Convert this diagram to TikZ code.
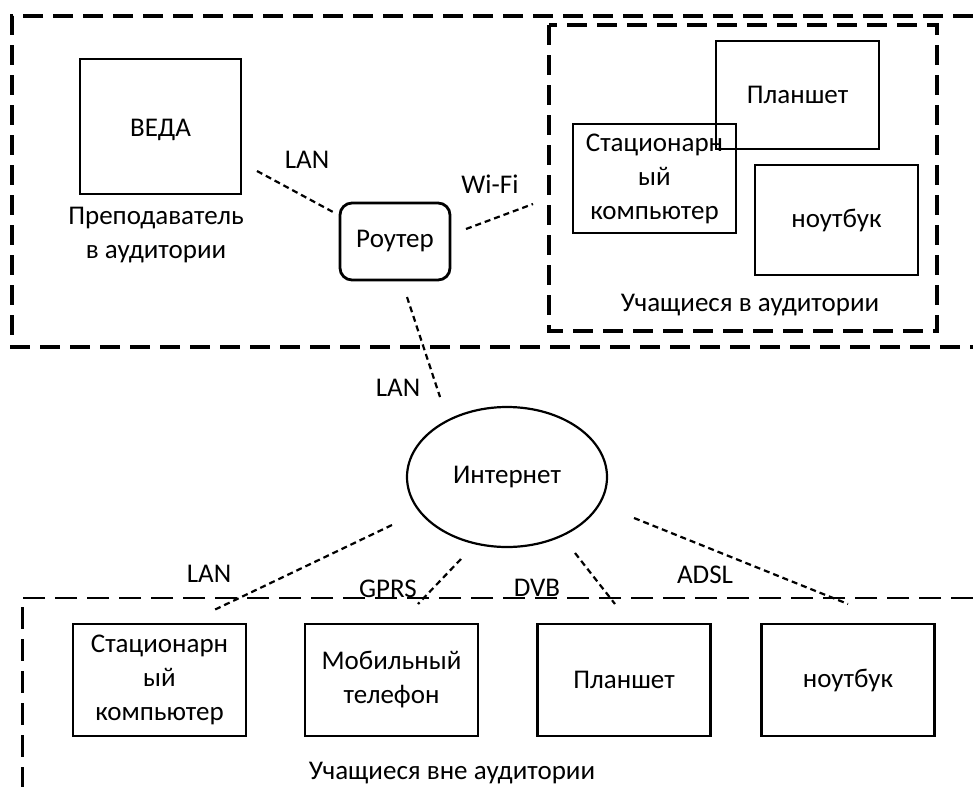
\documentclass[tikz,border=0pt]{standalone}
\usepackage{fontspec}
\setmainfont{Carlito}
\usetikzlibrary{shapes.geometric}
\begin{document}
\begin{tikzpicture}[x=0.5pt,y=-0.5pt,
  every node/.style={font=\fontsize{13.5}{17}\selectfont, align=center, inner sep=0pt, outer sep=0pt},
  devbox/.style={draw, line width=1.4pt, minimum width=81.5pt, minimum height=54.5pt},
  lowbox/.style={draw, line width=1.4pt, minimum width=86.5pt, minimum height=56pt},
  zone/.style={line width=1.7pt, dash pattern=on 10pt off 5pt},
  link/.style={line width=1.1pt, dash pattern=on 3pt off 2pt}
]
\useasboundingbox (0,0) rectangle (973,787);

% zones
\draw[zone] (973,16) -- (12,16) -- (12,347) -- (973,347);
\draw[zone] (549,25) rectangle (937,331);
\draw[line width=1.1pt, dash pattern=on 11pt off 5pt] (973,598) -- (22,598);
\draw[line width=1.5pt, dash pattern=on 11pt off 5pt] (22,607) -- (22,787);

% classroom teacher
\node[draw, line width=1.4pt, minimum width=80.5pt, minimum height=67.5pt] (veda) at (160.5,126.5) {};
\node (vedat) at (160.5,130) {ВЕДА};
\node (teacher) at (156,235.5) {Преподаватель\\в аудитории};

% router
\node[draw, line width=1.4pt, rounded corners=6pt, minimum width=55pt, minimum height=38.5pt] (router) at (395,241.5) {Роутер};

% classroom students
\node[devbox, minimum height=54pt] (tab1) at (797.5,95) {Планшет};
\node[devbox] (pc1) at (654.5,178.5) {Стационарн\\ый\\компьютер};
\node[devbox, minimum height=55pt] (nb1) at (836.5,220) {ноутбук};
\node (stin) at (750,305) {Учащиеся в аудитории};

% internet
\node[draw, ellipse, line width=1.1pt, minimum width=100pt, minimum height=70pt] (inet) at (507,477) {Интернет};

% outside students
\node[lowbox] (pc2) at (159.5,680) {Стационарн\\ый\\компьютер};
\node[lowbox] (mob) at (391.5,680) {Мобильный\\телефон};
\node[lowbox] (tab2) at (624,680) {Планшет};
\node[lowbox] (nb2) at (848,680) {ноутбук};
\node (stout) at (452,773) {Учащиеся вне аудитории};

% connector ends
\coordinate (a1) at (257,171); \coordinate (a2) at (333,212);
\coordinate (b1) at (466,229); \coordinate (b2) at (533,204);
\coordinate (c1) at (407,297); \coordinate (c2) at (440,397);
\coordinate (d1) at (392,525); \coordinate (d2) at (212,611);
\coordinate (e1) at (461,559); \coordinate (e2) at (418,604);
\coordinate (f1) at (575,553); \coordinate (f2) at (615,604);
\coordinate (g1) at (634,518); \coordinate (g2) at (848,604);

\draw[link] (a1) -- (a2);
\draw[link] (b1) -- (b2);
\draw[link] (c1) -- (c2);
\draw[link] (d1) -- (d2);
\draw[link] (e1) -- (e2);
\draw[link] (f1) -- (f2);
\draw[link] (g1) -- (g2);

% link labels
\node (l1) at (307,160) {LAN};
\node (l2) at (490,184) {Wi-Fi};
\node (l3) at (398,388) {LAN};
\node (l4) at (209,574) {LAN};
\node (l5) at (388,589) {GPRS};
\node (l6) at (537,588) {DVB};
\node (l7) at (705,575) {ADSL};
\end{tikzpicture}
\end{document}
